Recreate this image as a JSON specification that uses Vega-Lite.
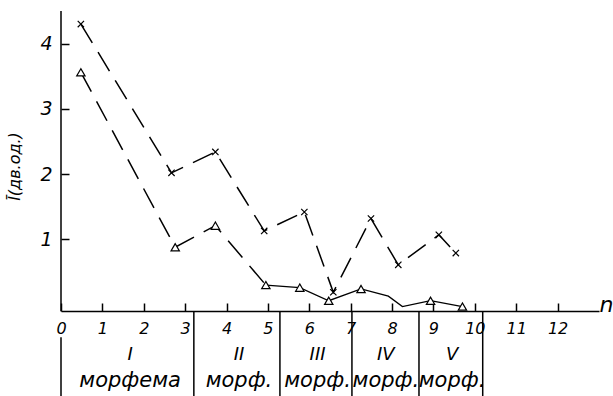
{
  "$schema": "https://vega.github.io/schema/vega-lite/v6.json",
  "width": 538,
  "height": 385,
  "autosize": {"type": "none"},
  "padding": {"left": 61, "top": 11, "right": 14, "bottom": 0},
  "background": "white",
  "config": {"view": {"stroke": null}, "font": "DejaVu Sans"},
  "datasets": {
    "crosses": [
      {"n": 0.48, "I": 4.30}, {"n": 2.67, "I": 2.02}, {"n": 3.73, "I": 2.34},
      {"n": 4.91, "I": 1.13}, {"n": 5.88, "I": 1.42}, {"n": 6.58, "I": 0.19},
      {"n": 7.49, "I": 1.32}, {"n": 8.15, "I": 0.61}, {"n": 9.13, "I": 1.07},
      {"n": 9.54, "I": 0.79}
    ],
    "triangles": [
      {"n": 0.48, "I": 3.56, "m": true}, {"n": 2.76, "I": 0.88, "m": true},
      {"n": 3.73, "I": 1.21, "m": true}, {"n": 4.95, "I": 0.30, "m": true},
      {"n": 5.77, "I": 0.26, "m": true}, {"n": 6.47, "I": 0.06, "m": true},
      {"n": 7.25, "I": 0.24, "m": true}, {"n": 7.91, "I": 0.13, "m": false},
      {"n": 8.25, "I": -0.03, "m": false}, {"n": 8.93, "I": 0.06, "m": true},
      {"n": 9.70, "I": -0.03, "m": true}
    ],
    "bounds": [{"n": 3.21}, {"n": 5.29}, {"n": 7.03}, {"n": 8.65}, {"n": 10.19}],
    "morphemes": [
      {"n": 1.67, "roman": "I", "word": "морфема"},
      {"n": 4.3, "roman": "II", "word": "морф."},
      {"n": 6.2, "roman": "III", "word": "морф."},
      {"n": 7.85, "roman": "IV", "word": "морф."},
      {"n": 9.45, "roman": "V", "word": "морф."}
    ]
  },
  "layer": [
    {
      "data": {"values": [{}]},
      "mark": {"type": "rule", "color": "black", "strokeWidth": 1.5},
      "encoding": {
        "x": {
          "datum": 0, "type": "quantitative",
          "scale": {"domain": [0, 13], "nice": false, "zero": false},
          "axis": {
            "orient": "bottom", "offset": -85,
            "values": [0, 1, 2, 3, 4, 5, 6, 7, 8, 9, 10, 11, 12], "format": "d",
            "domain": true, "domainColor": "black", "domainWidth": 1.5,
            "ticks": true, "tickColor": "black", "tickWidth": 1.5, "tickSize": -8,
            "labelFont": "DejaVu Sans", "labelFontStyle": "italic", "labelFontSize": 16,
            "labelColor": "black", "labelPadding": 17, "labelFlush": false, "labelOverlap": false,
            "grid": false,
            "title": "n", "titleFont": "DejaVu Sans", "titleFontSize": 22, "titleFontStyle": "italic",
            "titleFontWeight": "normal", "titleColor": "black",
            "titleX": 538, "titleY": 0, "titleAlign": "left", "titleBaseline": "alphabetic"
          }
        },
        "y": {
          "datum": -0.1, "type": "quantitative",
          "scale": {"domain": [-1.4, 4.5], "nice": false, "zero": false},
          "axis": {
            "orient": "left", "values": [1, 2, 3, 4], "format": "d",
            "domain": false, "ticks": true, "tickColor": "black", "tickWidth": 1.5, "tickSize": -8,
            "labelFont": "DejaVu Sans", "labelFontStyle": "italic", "labelFontSize": 19,
            "labelColor": "black", "labelPadding": 17, "grid": false,
            "title": "Ī(дв.од.)", "titleFont": "DejaVu Sans", "titleFontSize": 16,
            "titleFontStyle": "italic", "titleFontWeight": "normal", "titleColor": "black",
            "titleX": -47, "titleY": 155, "titleAngle": -90, "titleAlign": "center",
            "titleBaseline": "middle"
          }
        },
        "y2": {"datum": 4.5}
      }
    },
    {
      "data": {"values": [{}]},
      "mark": {"type": "rule", "color": "black", "strokeWidth": 1.5},
      "encoding": {
        "x": {"datum": 0, "type": "quantitative"},
        "y": {"datum": -0.5, "type": "quantitative"},
        "y2": {"datum": -1.4}
      }
    },
    {
      "data": {"name": "bounds"},
      "mark": {"type": "rule", "color": "black", "strokeWidth": 1.5},
      "encoding": {
        "x": {"field": "n", "type": "quantitative"},
        "y": {"datum": -0.1, "type": "quantitative"},
        "y2": {"datum": -1.4}
      }
    },
    {
      "data": {"name": "morphemes"},
      "mark": {"type": "text", "font": "DejaVu Sans", "fontStyle": "italic", "fontSize": 18, "color": "black", "baseline": "middle", "align": "center"},
      "encoding": {
        "x": {"field": "n", "type": "quantitative"},
        "y": {"datum": -0.77, "type": "quantitative"},
        "text": {"field": "roman"}
      }
    },
    {
      "data": {"name": "morphemes"},
      "mark": {"type": "text", "font": "DejaVu Sans", "fontStyle": "italic", "fontSize": 21, "color": "black", "baseline": "middle", "align": "center"},
      "encoding": {
        "x": {"field": "n", "type": "quantitative"},
        "y": {"datum": -1.17, "type": "quantitative"},
        "text": {"field": "word"}
      }
    },
    {
      "data": {"name": "crosses"},
      "mark": {"type": "line", "color": "black", "strokeWidth": 1.5, "strokeDash": [22, 11]},
      "encoding": {
        "x": {"field": "n", "type": "quantitative"},
        "y": {"field": "I", "type": "quantitative"}
      }
    },
    {
      "data": {"name": "crosses"},
      "mark": {"type": "point", "shape": "M-1,-1L1,1M1,-1L-1,1", "filled": false, "stroke": "black", "strokeWidth": 1.2, "size": 40, "opacity": 1},
      "encoding": {
        "x": {"field": "n", "type": "quantitative"},
        "y": {"field": "I", "type": "quantitative"}
      }
    },
    {
      "data": {"name": "triangles"},
      "transform": [{"filter": "datum.n <= 5"}],
      "mark": {"type": "line", "color": "black", "strokeWidth": 1.5, "strokeDash": [22, 11]},
      "encoding": {
        "x": {"field": "n", "type": "quantitative"},
        "y": {"field": "I", "type": "quantitative"}
      }
    },
    {
      "data": {"name": "triangles"},
      "transform": [{"filter": "datum.n >= 4.9"}],
      "mark": {"type": "line", "color": "black", "strokeWidth": 1.3},
      "encoding": {
        "x": {"field": "n", "type": "quantitative"},
        "y": {"field": "I", "type": "quantitative"}
      }
    },
    {
      "data": {"name": "triangles"},
      "transform": [{"filter": "datum.m"}],
      "mark": {"type": "point", "shape": "triangle-up", "filled": true, "fill": "white", "stroke": "black", "strokeWidth": 1.2, "size": 70, "opacity": 1},
      "encoding": {
        "x": {"field": "n", "type": "quantitative"},
        "y": {"field": "I", "type": "quantitative"}
      }
    }
  ]
}
